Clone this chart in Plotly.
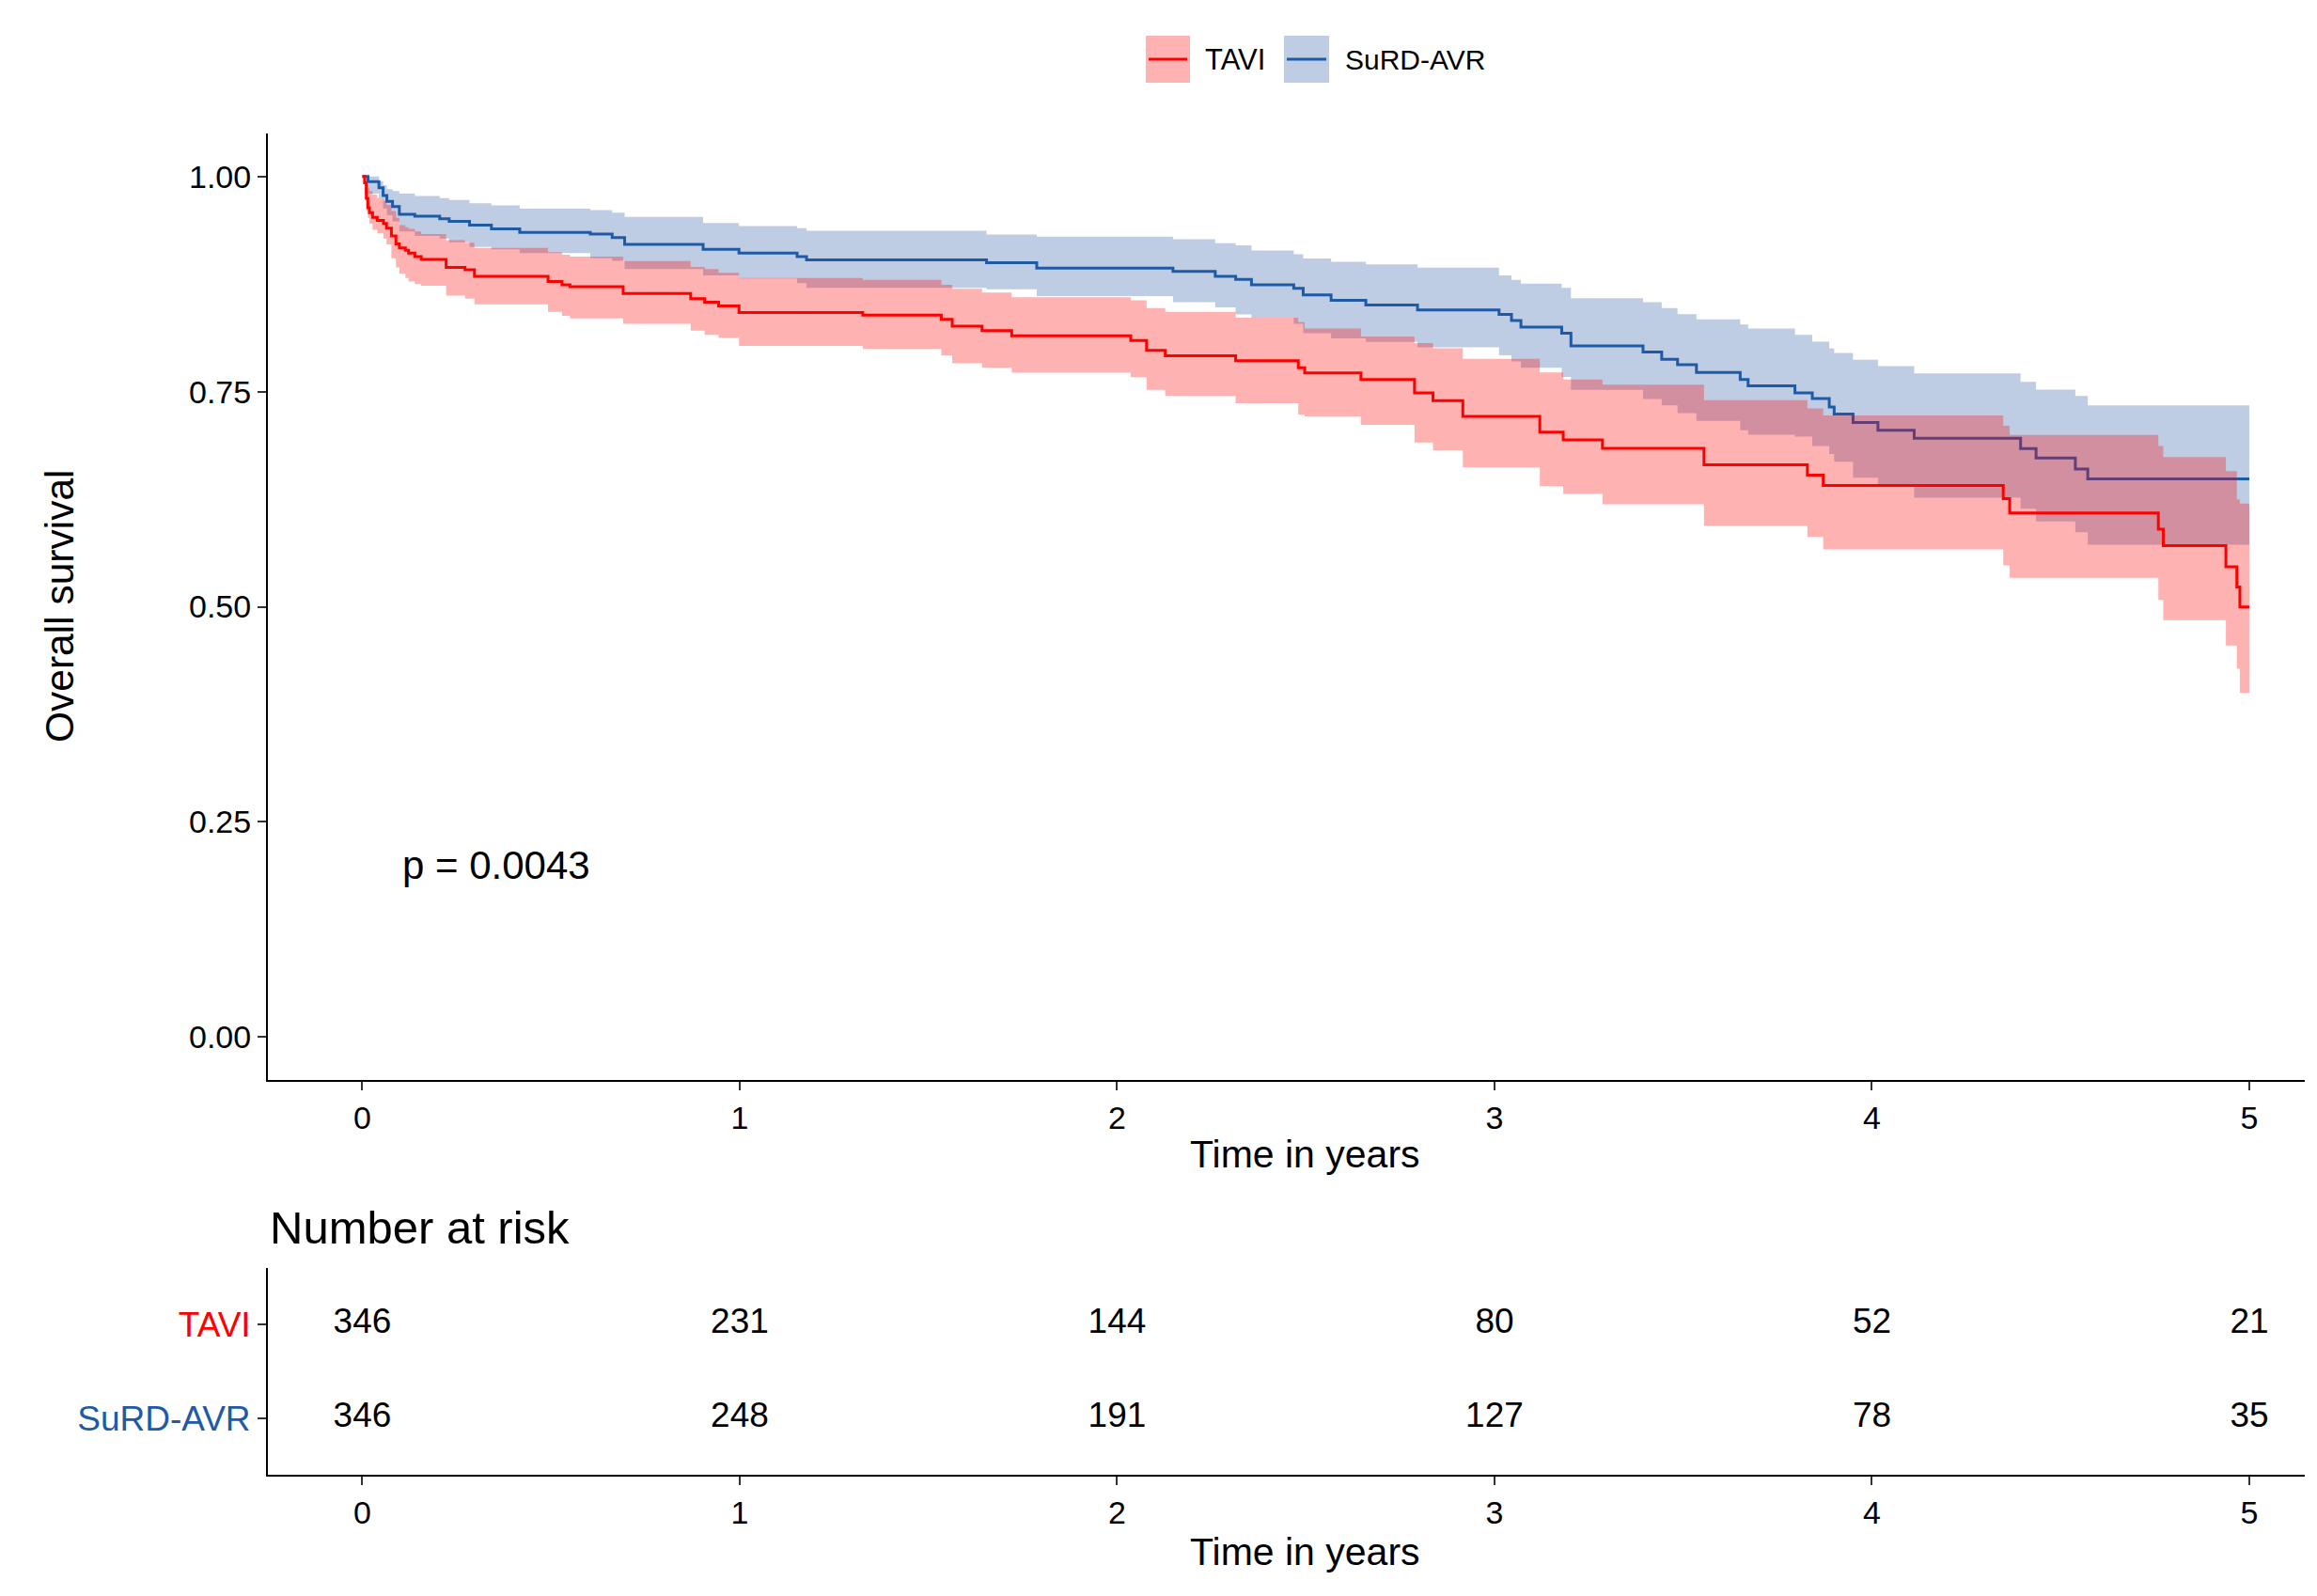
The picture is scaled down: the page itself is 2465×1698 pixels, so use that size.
import plotly.graph_objects as go

# ---------------- data ----------------
tavi_t = [0, 0.006, 0.0104, 0.0145, 0.0187, 0.027, 0.0395, 0.056, 0.064, 0.077, 0.089, 0.098,
          0.114, 0.1225, 0.139, 0.156, 0.222, 0.272, 0.297, 0.492, 0.529, 0.55, 0.691, 0.87,
          0.907, 0.944, 0.998, 1.326, 1.534, 1.563, 1.642, 1.7206, 2.036, 2.078, 2.1275, 2.314,
          2.48, 2.497, 2.646, 2.788, 2.837, 2.916, 3.12, 3.182, 3.286, 3.555, 3.829, 3.871,
          4.348, 4.365, 4.759, 4.772, 4.938, 4.967, 4.975, 5.0]
tavi_s = [1.0, 0.9927, 0.9745, 0.9636, 0.958, 0.9526, 0.949, 0.9454, 0.94, 0.931, 0.9217, 0.917,
          0.9144, 0.911, 0.907, 0.9035, 0.8944, 0.8915, 0.884, 0.878, 0.874, 0.872, 0.864, 0.858,
          0.854, 0.8495, 0.842, 0.839, 0.834, 0.826, 0.8208, 0.815, 0.8095, 0.798, 0.7916, 0.7858,
          0.7778, 0.7716, 0.764, 0.7486, 0.7395, 0.7213, 0.703, 0.694, 0.684, 0.665, 0.653, 0.641,
          0.6255, 0.609, 0.590, 0.571, 0.5464, 0.523, 0.4998, 0.4998]
tavi_upper = [1.0, 0.999, 0.992, 0.987, 0.983, 0.979, 0.975, 0.972, 0.967, 0.96, 0.952, 0.9435,
              0.941, 0.939, 0.936, 0.933, 0.926, 0.923, 0.917, 0.912, 0.909, 0.907, 0.9016, 0.895,
              0.8925, 0.888, 0.882, 0.8798, 0.874, 0.8696, 0.865, 0.8597, 0.856, 0.847, 0.8426, 0.836,
              0.8306, 0.8233, 0.814, 0.8063, 0.8004, 0.788, 0.7723, 0.764, 0.758, 0.740, 0.7304, 0.7224,
              0.7104, 0.6995, 0.6867, 0.674, 0.6576, 0.6248, 0.62, 0.62]
tavi_lower = [1.0, 0.98, 0.96, 0.952, 0.945, 0.938, 0.934, 0.928, 0.921, 0.905, 0.8944, 0.887,
              0.882, 0.878, 0.875, 0.873, 0.8616, 0.858, 0.8514, 0.8426, 0.838, 0.835, 0.8288, 0.8208,
              0.816, 0.8124, 0.803, 0.7997, 0.792, 0.783, 0.7778, 0.772, 0.7669, 0.752, 0.745, 0.7366,
              0.723, 0.7213, 0.7115, 0.691, 0.682, 0.662, 0.640, 0.631, 0.619, 0.594, 0.581, 0.5665,
              0.548, 0.5337, 0.508, 0.4845, 0.455, 0.428, 0.3997, 0.3997]

surd_t = [0, 0.015, 0.044, 0.055, 0.065, 0.08, 0.098, 0.139, 0.205, 0.23, 0.284, 0.342, 0.417,
          0.604, 0.662, 0.695, 0.903, 0.998, 1.152, 1.177, 1.654, 1.787, 2.148, 2.26, 2.314, 2.356,
          2.468, 2.493, 2.567, 2.659, 2.796, 3.012, 3.045, 3.07, 3.178, 3.2025, 3.3935, 3.443, 3.485,
          3.535, 3.651, 3.672, 3.796, 3.842, 3.887, 3.9, 3.95, 4.016, 4.112, 4.394, 4.435, 4.539,
          4.572, 5.0]
surd_s = [1.0, 0.994, 0.987, 0.978, 0.971, 0.965, 0.956, 0.954, 0.951, 0.948, 0.9435, 0.939, 0.935,
          0.933, 0.929, 0.921, 0.9155, 0.911, 0.907, 0.903, 0.8998, 0.8936, 0.8896, 0.884, 0.8805, 0.874,
          0.870, 0.8623, 0.856, 0.8506, 0.845, 0.8397, 0.8325, 0.825, 0.8178, 0.803, 0.796, 0.7876, 0.7814,
          0.7723, 0.764, 0.7566, 0.7486, 0.742, 0.7322, 0.7239, 0.714, 0.705, 0.6958, 0.6838, 0.673, 0.660,
          0.6485, 0.6485]
surd_upper = [1.0, 1.0, 0.9945, 0.99, 0.9854, 0.983, 0.980, 0.9774, 0.975, 0.9727, 0.969, 0.9665, 0.9625,
              0.961, 0.958, 0.953, 0.946, 0.9425, 0.940, 0.937, 0.9326, 0.930, 0.927, 0.9224, 0.92, 0.914,
              0.9097, 0.9046, 0.901, 0.898, 0.894, 0.885, 0.880, 0.8755, 0.8707, 0.8587, 0.854, 0.847, 0.840,
              0.834, 0.828, 0.8233, 0.816, 0.808, 0.800, 0.795, 0.787, 0.7796, 0.7712, 0.7614, 0.7523, 0.745,
              0.734, 0.734]
surd_lower = [1.0, 0.98, 0.975, 0.963, 0.955, 0.948, 0.936, 0.931, 0.928, 0.9235, 0.918, 0.9155, 0.911,
              0.905, 0.902, 0.8925, 0.885, 0.8816, 0.876, 0.8707, 0.869, 0.861, 0.854, 0.848, 0.8397, 0.836,
              0.8288, 0.818, 0.812, 0.8077, 0.8014, 0.7923, 0.785, 0.7778, 0.767, 0.752, 0.7413, 0.734, 0.725,
              0.716, 0.705, 0.700, 0.6976, 0.6867, 0.6776, 0.6685, 0.650, 0.641, 0.6266, 0.614, 0.599, 0.5866,
              0.572, 0.572]

risk_times = [0, 1, 2, 3, 4, 5]
tavi_risk = [346, 231, 144, 80, 52, 21]
surd_risk = [346, 248, 191, 127, 78, 35]

x_ticks = [0, 1, 2, 3, 4, 5]
y_ticks = [0, 0.25, 0.5, 0.75, 1.0]
y_ticklabels = ["0.00", "0.25", "0.50", "0.75", "1.00"]
groups = ["TAVI", "SuRD-AVR"]
p_text = "p = 0.0043"

# ---------------- style ----------------
W, H = 2465, 1698
FONT = "Liberation Sans, Arial, sans-serif"
RED = "#FF0000"
BLUE = "#1F5AA6"
RED_FILL = "rgba(255,0,0,0.3)"
BLUE_FILL = "rgba(40,88,165,0.3)"

def fx(p):
    return p / W

def fy(p):
    return 1 - p / H

fig = go.Figure()

def add_group(t, s, up, lo, line_col, fill_col):
    fig.add_trace(go.Scatter(x=t, y=up, mode="lines", line=dict(width=0, color="rgba(0,0,0,0)", shape="hv"),
                             showlegend=False, hoverinfo="skip"))
    fig.add_trace(go.Scatter(x=t, y=lo, mode="lines", line=dict(width=0, color="rgba(0,0,0,0)", shape="hv"),
                             fill="tonexty", fillcolor=fill_col, showlegend=False, hoverinfo="skip"))
    fig.add_trace(go.Scatter(x=t, y=s, mode="lines", line=dict(width=3, color=line_col, shape="hv"),
                             showlegend=False))

add_group(surd_t, surd_s, surd_upper, surd_lower, BLUE, BLUE_FILL)
add_group(tavi_t, tavi_s, tavi_upper, tavi_lower, RED, RED_FILL)

# risk table numbers
fig.add_trace(go.Scatter(x=risk_times, y=[2] * len(risk_times), mode="text",
                         text=[str(v) for v in tavi_risk], textfont=dict(size=37, color="black", family=FONT),
                         xaxis="x2", yaxis="y2", showlegend=False))
fig.add_trace(go.Scatter(x=risk_times, y=[1] * len(risk_times), mode="text",
                         text=[str(v) for v in surd_risk], textfont=dict(size=37, color="black", family=FONT),
                         xaxis="x2", yaxis="y2", showlegend=False))

xdom = [fx(277), fx(2444)]
xrange = [-0.2503, 5.147]
axis_common = dict(showline=True, linecolor="black", linewidth=2, ticks="outside", ticklen=9,
                   tickwidth=2, tickcolor="#333333", showgrid=False, zeroline=False,
                   tickfont=dict(size=34, color="black", family=FONT))

fig.update_layout(
    width=W, height=H,
    margin=dict(l=0, r=0, t=0, b=0),
    paper_bgcolor="white", plot_bgcolor="white",
    font=dict(family=FONT, color="black"),
    showlegend=False,
    xaxis=dict(domain=xdom, range=xrange, tickvals=x_ticks, anchor="y", **axis_common),
    yaxis=dict(domain=[fy(1141), fy(134)], range=[-0.05, 1.05], tickvals=y_ticks,
               ticktext=y_ticklabels, anchor="x", **axis_common),
    xaxis2=dict(domain=xdom, range=xrange, tickvals=x_ticks, anchor="y2", **axis_common),
    yaxis2=dict(domain=[fy(1561), fy(1341)], range=[0.4, 2.6], tickvals=[1, 2],
                ticktext=['<span style="color:%s">%s</span>' % (BLUE, groups[1]),
                          '<span style="color:%s">%s</span>' % (RED, groups[0])],
                anchor="x2", **{**axis_common, "tickfont": dict(size=37, family=FONT)}),
)

annotations = [
    dict(text="Overall survival", x=fx(55), y=fy(637), xref="paper", yref="paper", textangle=-90,
         showarrow=False, font=dict(size=42.5, family=FONT, color="black"), xanchor="center", yanchor="middle"),
    dict(text="Time in years", x=fx(1380), y=fy(1220), xref="paper", yref="paper",
         showarrow=False, font=dict(size=41, family=FONT, color="black"), xanchor="center", yanchor="middle"),
    dict(text="Time in years", x=fx(1380), y=fy(1643), xref="paper", yref="paper",
         showarrow=False, font=dict(size=41, family=FONT, color="black"), xanchor="center", yanchor="middle"),
    dict(text="Number at risk", x=fx(277), y=fy(1298), xref="paper", yref="paper",
         showarrow=False, font=dict(size=49, family=FONT, color="black"), xanchor="left", yanchor="middle"),
    dict(text=p_text, x=0.1, y=0.2, xref="x", yref="y",
         showarrow=False, font=dict(size=42, family=FONT, color="black"), xanchor="left", yanchor="middle"),
    dict(text=groups[0], x=fx(1272), y=fy(55), xref="paper", yref="paper",
         showarrow=False, font=dict(size=31, family=FONT, color="black"), xanchor="left", yanchor="middle"),
    dict(text=groups[1], x=fx(1421), y=fy(55), xref="paper", yref="paper",
         showarrow=False, font=dict(size=30, family=FONT, color="black"), xanchor="left", yanchor="middle"),
]
fig.update_layout(annotations=annotations)

shapes = []
for (x0, x1, fc, lc) in [(1211, 1258, RED_FILL, RED), (1358, 1406, BLUE_FILL, BLUE)]:
    shapes.append(dict(type="rect", xref="paper", yref="paper", x0=fx(x0), x1=fx(x1), y0=fy(80), y1=fy(30),
                       fillcolor=fc, line=dict(width=0)))
    shapes.append(dict(type="line", xref="paper", yref="paper", x0=fx(x0 + 3), x1=fx(x1 - 3), y0=fy(55), y1=fy(55),
                       line=dict(color=lc, width=3)))
fig.update_layout(shapes=shapes)

fig.write_html("out.html")
